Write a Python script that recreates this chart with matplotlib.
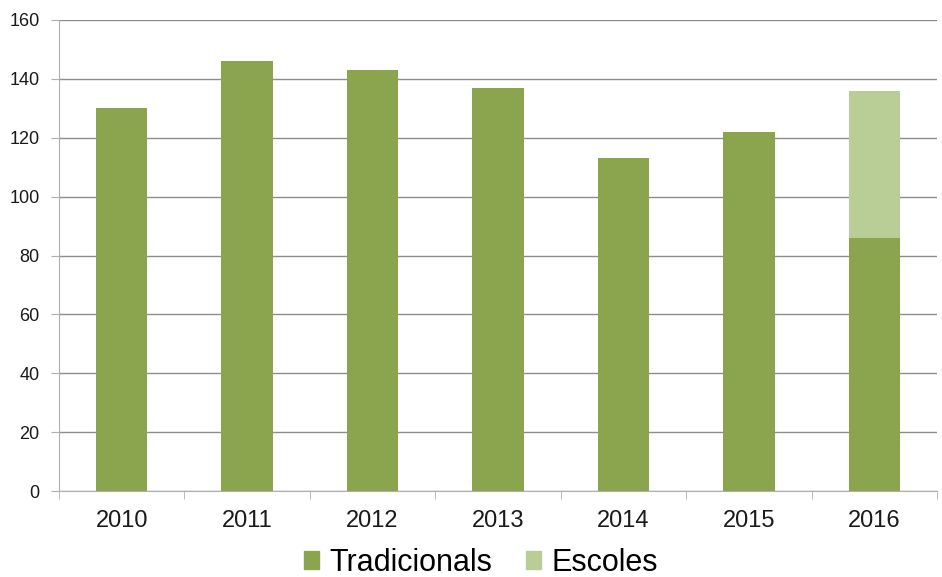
import numpy as np
import matplotlib.pyplot as plt
from matplotlib.patches import Patch

plt.rcParams['font.family'] = ['Liberation Sans', 'DejaVu Sans']

# data
years = ['2010', '2011', '2012', '2013', '2014', '2015', '2016']
tradicionals = [130, 146, 143, 137, 113, 122, 86]
escoles = [0, 0, 0, 0, 0, 0, 50]

DARK = '#8BA54F'
LIGHT = '#B9CE96'
GRID = '#8C8C8C'
AXIS = '#B0B0B0'

fig = plt.figure(figsize=(9.42, 5.77), dpi=100)
ax = fig.add_axes([59 / 942, 1 - 491 / 577, 878 / 942, 471 / 577])

x = np.arange(len(years))
ax.bar(x, tradicionals, width=0.41, color=DARK, zorder=3)
ax.bar(x, escoles, width=0.41, bottom=tradicionals, color=LIGHT, zorder=3)

ax.set_xlim(-0.5, len(years) - 0.5)
ax.set_ylim(0, 160)
ax.set_yticks(range(0, 161, 20))
ax.yaxis.grid(True, color=GRID, linewidth=1)
ax.set_axisbelow(True)

ax.set_xticks(x)
ax.set_xticklabels(years, fontsize=17, color='#1a1a1a')
ax.set_xticks(np.arange(-0.5, len(years)), minor=True)
ax.tick_params(axis='x', which='major', length=0, pad=14)
ax.tick_params(axis='x', which='minor', length=6, color=AXIS, direction='out')
ax.tick_params(axis='y', length=6, color=AXIS, labelsize=13, labelcolor='#1a1a1a', pad=8)

for side in ['top', 'right']:
    ax.spines[side].set_visible(False)
ax.spines['left'].set_color(AXIS)
ax.spines['bottom'].set_color(AXIS)

handles = [Patch(color=DARK, label='Tradicionals'), Patch(color=LIGHT, label='Escoles')]
fig.legend(handles=handles, loc='center', bbox_to_anchor=(0.5 + 10 / 942, 1 - 563 / 577), ncol=2,
           frameon=False, fontsize=22, handlelength=0.5, handleheight=0.5,
           handletextpad=0.35, columnspacing=1.1, borderpad=0.2)

fig.savefig('out.png', dpi=100)
